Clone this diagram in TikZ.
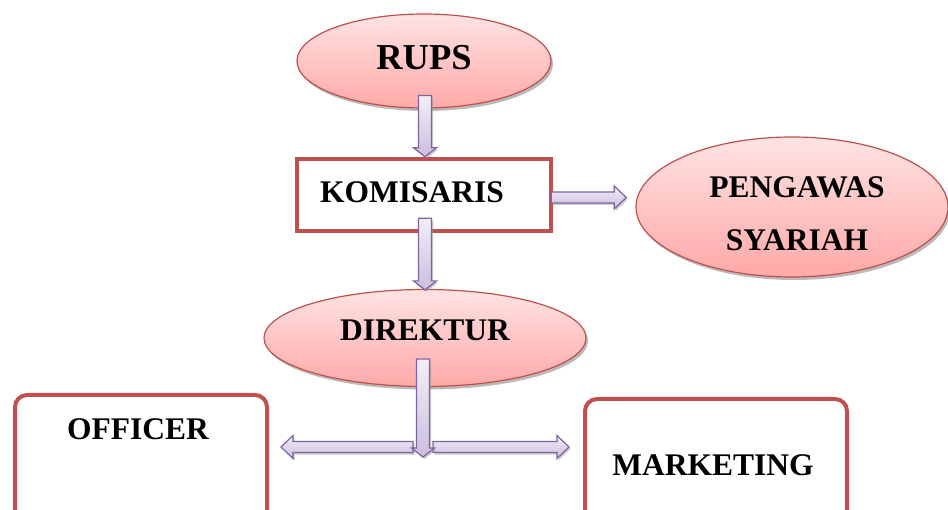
\documentclass[tikz,border=0pt]{standalone}
\usepackage{fontspec}
\setmainfont{Liberation Serif}
\usetikzlibrary{calc,shadows,shapes.geometric}
\definecolor{redline}{HTML}{C0504D}
\definecolor{pinktop}{HTML}{FFE3E3}
\definecolor{pinkbot}{HTML}{FFA9A8}
\definecolor{lavtop}{HTML}{F2EEF7}
\definecolor{lavbot}{HTML}{CBBEDD}
\definecolor{purpline}{HTML}{8064A2}
\tikzset{
  oval/.style={ellipse, draw=redline, line width=1.2pt, top color=pinktop, bottom color=pinkbot,
    drop shadow={shadow xshift=2pt, shadow yshift=-3pt, fill=black!45, opacity=0.6},
    font=\bfseries, inner sep=0pt},
  sqbox/.style={rectangle, draw=redline, line width=4.5pt, fill=white, inner sep=0pt},
  rbox/.style={rectangle, rounded corners=12pt, draw=redline, line width=4pt, fill=white, inner sep=0pt},
  lbl/.style={font=\bfseries\fontsize{31.5}{38}\selectfont, inner sep=0pt},
  blk/.style={draw=purpline, line width=1.2pt, top color=lavtop, bottom color=lavbot, line join=miter,
    drop shadow={shadow xshift=1.5pt, shadow yshift=-2pt, fill=black!40, opacity=0.5}},
}
% block arrows (axis aligned); #1 start, #2 tip
\newcommand{\blkdown}[2]{\path[blk] let \p1=(#1), \p2=(#2) in
  (\x1-6.5pt,\y1) -- (\x1-6.5pt,\y2+9pt) -- (\x1-11.5pt,\y2+9pt) -- (\x1,\y2) --
  (\x1+11.5pt,\y2+9pt) -- (\x1+6.5pt,\y2+9pt) -- (\x1+6.5pt,\y1) -- cycle;}
\newcommand{\blkright}[2]{\path[blk] let \p1=(#1), \p2=(#2) in
  (\x1,\y1+5.5pt) -- (\x2-12pt,\y1+5.5pt) -- (\x2-12pt,\y1+11.5pt) -- (\x2,\y1) --
  (\x2-12pt,\y1-11.5pt) -- (\x2-12pt,\y1-5.5pt) -- (\x1,\y1-5.5pt) -- cycle;}
\newcommand{\blkleft}[2]{\path[blk] let \p1=(#1), \p2=(#2) in
  (\x1,\y1+5.5pt) -- (\x2+12pt,\y1+5.5pt) -- (\x2+12pt,\y1+11.5pt) -- (\x2,\y1) --
  (\x2+12pt,\y1-11.5pt) -- (\x2+12pt,\y1-5.5pt) -- (\x1,\y1-5.5pt) -- cycle;}
\begin{document}
\begin{tikzpicture}[x=1pt,y=-1pt]
\useasboundingbox (0,0) rectangle (948,510);
\clip (0,0) rectangle (948,510);
\fill[white] (0,0) rectangle (948,510);

% nodes
\node[oval, minimum width=254pt, minimum height=94pt] (rups) at (424,61) {};
\node[lbl, font=\bfseries\fontsize{36.5}{40}\selectfont] (trups) at (424,58) {RUPS};

\node[sqbox, minimum width=254pt, minimum height=72pt] (kom) at (424,195) {};
\node[lbl] (tkom) at (412,192) {KOMISARIS};

\node[oval, minimum width=312pt, minimum height=140pt] (peng) at (792,207) {};
\node[lbl, align=center] (tpeng1) at (797,187) {PENGAWAS};
\node[lbl] (tpeng2) at (797,240) {SYARIAH};

\node[oval, minimum width=322pt, minimum height=97pt] (dir) at (425,338) {};
\node[lbl] (tdir) at (425,330) {DIREKTUR};

\node[rbox, minimum width=252pt, minimum height=150pt, anchor=north west] (off) at (13,393) {};
\node[lbl] (toff) at (138,429) {OFFICER};

\node[rbox, minimum width=262pt, minimum height=150pt, anchor=north west] (mkt) at (583,397) {};
\node[lbl] (tmkt) at (713,465) {MARKETING};

% connector ends
\coordinate (a1s) at ($(rups.south)+(1,-13)$);
\coordinate (a1e) at (a1s |- kom.north);
\coordinate (a2s) at ($(kom.south)+(1,-15)$);
\coordinate (a2e) at (a2s |- dir.north);
\coordinate (a3s) at ($(kom.east)+(-2,2.5)$);
\coordinate (a3e) at ($(a3s)+(75,0)$);
\coordinate (a4s) at ($(dir.south)+(-2,-28)$);
\coordinate (junc) at (423,447);
\coordinate (a4e) at ($(junc)+(0,10)$);
\coordinate (a5s) at (413,447);
\coordinate (a5e) at ($(off.east |- junc)+(12,0)$);
\coordinate (a6s) at (433,447);
\coordinate (a6e) at ($(mkt.west |- junc)+(-14,0)$);

\blkdown{a1s}{a1e}
\blkdown{a2s}{$(a2e)+(0,1)$}
\blkright{a3s}{a3e}
\blkleft{a5s}{a5e}
\blkright{a6s}{a6e}
\blkdown{a4s}{a4e}
\end{tikzpicture}
\end{document}
